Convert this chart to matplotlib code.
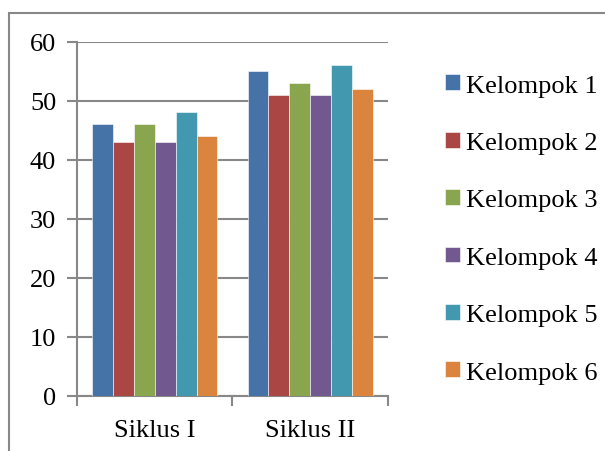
import numpy as np
import matplotlib
matplotlib.use("Agg")
import matplotlib.pyplot as plt
from matplotlib.patches import Rectangle

# data
siklus = ["Siklus I", "Siklus II"]
kelompok = ["Kelompok 1", "Kelompok 2", "Kelompok 3", "Kelompok 4", "Kelompok 5", "Kelompok 6"]
nilai = [
    [46, 55],
    [43, 51],
    [46, 53],
    [43, 51],
    [48, 56],
    [44, 52],
]
yticks = [0, 10, 20, 30, 40, 50, 60]

warna = ["#4572A7", "#AA4643", "#89A54E", "#71588F", "#4198AF", "#DB843D"]
abu = "#888888"

plt.rcParams["font.family"] = ["Liberation Serif", "DejaVu Serif"]

W, H = 605, 452
fig = plt.figure(figsize=(W / 100, H / 100), dpi=100)
ax = fig.add_axes([77 / W, 1 - 396.5 / H, (388 - 77) / W, (396.5 - 42.5) / H])

x = np.arange(len(siklus))
lebar = 0.806 / len(kelompok)
bars = []
for j, (nama, vals) in enumerate(zip(kelompok, nilai)):
    b = ax.bar(x + (j - 2.5) * lebar, vals, lebar, color=warna[j],
               edgecolor="white", linewidth=0.4, label=nama, zorder=3)
    bars.append(b)

ax.set_xlim(-0.5, 1.5)
ax.set_ylim(0, 60)
ax.set_yticks(yticks)
ax.set_yticklabels([str(v) for v in yticks])
ax.yaxis.grid(True, color=abu, linewidth=1.5, zorder=0)

# category ticks sit between groups, labels at the centres
ax.set_xticks([-0.5, 0.5, 1.5])
ax.set_xticklabels([])
ax.set_xticks(x, minor=True)
ax.set_xticklabels(siklus, minor=True)
ax.tick_params(axis="x", which="minor", length=0, pad=17, labelsize=19)
ax.tick_params(axis="x", which="major", length=7, width=1.5, color=abu)
ax.tick_params(axis="y", length=7, width=1.5, color=abu, labelsize=19, pad=8)

for s in ["top", "right"]:
    ax.spines[s].set_visible(False)
for s in ["left", "bottom"]:
    ax.spines[s].set_color(abu)
    ax.spines[s].set_linewidth(1.5)

fig.legend(handles=bars, loc="center left", bbox_to_anchor=(445 / W, 1 - 230 / H),
           frameon=False, fontsize=19, handlelength=0.55, handleheight=0.55,
           handletextpad=0.25, labelspacing=1.33, borderpad=0, borderaxespad=0)

# chart border
fig.patches.append(Rectangle((9 / W, -0.1), 1.0, (H - 14) / H + 0.1,
                             transform=fig.transFigure, fill=False,
                             edgecolor=abu, linewidth=1.5))

fig.savefig("out.png", dpi=100)
